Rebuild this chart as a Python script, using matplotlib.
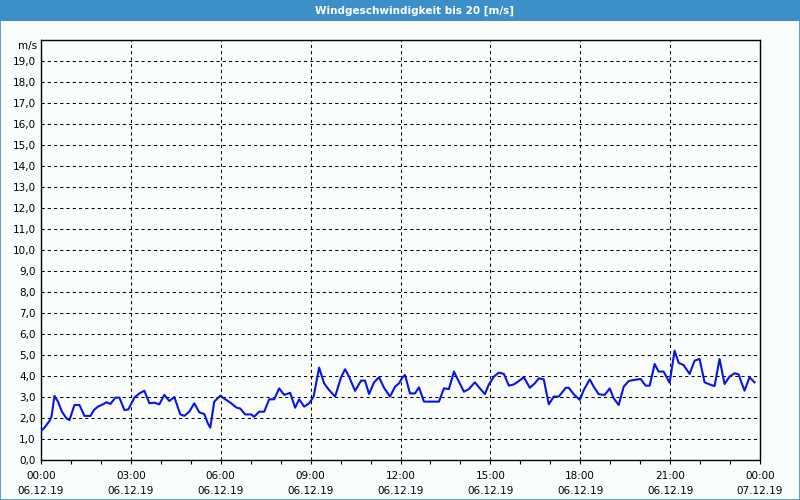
import numpy as np
import matplotlib.pyplot as plt
from matplotlib.patches import Rectangle

# Wind speed readings, 06.12.19 (minutes after midnight, m/s)
minutes = [0, 7, 17, 21, 27, 34, 42, 51, 57, 67, 77, 87, 99, 106, 114, 124, 131, 139,
           149, 157, 167, 175, 187, 197, 207, 217, 227, 237, 247, 257, 267, 279, 287,
           297, 307, 317, 327, 334, 339, 347, 359, 371, 381, 391, 399, 409, 421, 427,
           437, 447, 457, 467, 477, 487, 499, 509, 517, 527, 537, 546, 557, 567, 577,
           589, 601, 609, 617, 629, 641, 649, 657, 667, 677, 687, 699, 709, 717, 724,
           729, 739, 749, 757, 767, 777, 787, 797, 807, 817, 827, 837, 847, 857, 869,
           879, 889, 897, 907, 917, 927, 937, 947, 957, 967, 979, 989, 997, 1007, 1017,
           1027, 1037, 1051, 1057, 1067, 1079, 1087, 1099, 1107, 1117, 1129, 1139, 1147,
           1157, 1167, 1177, 1187, 1201, 1211, 1219, 1229, 1237, 1247, 1259, 1269, 1277,
           1287, 1299, 1309, 1319, 1329, 1339, 1349, 1359, 1369, 1379, 1389, 1397, 1409,
           1419, 1429]
speed = [1.38, 1.54, 1.86, 2.06, 3.05, 2.78, 2.3, 1.98, 1.9, 2.62, 2.62, 2.1, 2.1, 2.38,
         2.54, 2.65, 2.75, 2.67, 2.97, 2.97, 2.38, 2.41, 2.97, 3.17, 3.3, 2.7, 2.73, 2.65,
         3.1, 2.81, 3.0, 2.17, 2.1, 2.3, 2.7, 2.27, 2.19, 1.75, 1.54, 2.78, 3.06, 2.86,
         2.7, 2.5, 2.45, 2.17, 2.17, 2.06, 2.3, 2.3, 2.89, 2.89, 3.41, 3.1, 3.2, 2.49,
         2.89, 2.54, 2.7, 3.02, 4.4, 3.65, 3.33, 3.02, 3.94, 4.32, 3.97, 3.29, 3.78, 3.78,
         3.14, 3.7, 3.94, 3.44, 3.02, 3.49, 3.65, 3.94, 4.05, 3.17, 3.17, 3.46, 2.78,
         2.78, 2.78, 2.78, 3.41, 3.38, 4.21, 3.73, 3.25, 3.38, 3.7, 3.41, 3.14, 3.6,
         3.97, 4.16, 4.1, 3.54, 3.6, 3.76, 3.94, 3.44, 3.65, 3.89, 3.84, 2.65, 3.02,
         3.02, 3.44, 3.44, 3.13, 2.86, 3.33, 3.84, 3.49, 3.13, 3.1, 3.41, 2.94, 2.62,
         3.49, 3.76, 3.81, 3.86, 3.54, 3.54, 4.57, 4.21, 4.21, 3.68, 5.21, 4.63, 4.52,
         4.1, 4.73, 4.81, 3.7, 3.6, 3.52, 4.81, 3.62, 3.97, 4.13, 4.08, 3.3, 3.94, 3.7]

tick_hours = [0, 3, 6, 9, 12, 15, 18, 21, 24]
tick_times = ["00:00", "03:00", "06:00", "09:00", "12:00", "15:00", "18:00", "21:00", "00:00"]
tick_dates = ["06.12.19"] * 8 + ["07.12.19"]
y_ticks = list(range(0, 20))

title = "Windgeschwindigkeit bis 20 [m/s]"
bar_color = "#3d90c7"
bg_color = "#f9fdfc"

fig = plt.figure(figsize=(8, 5), dpi=100, facecolor=bg_color)

# window frame and title bar
fig.patches.append(Rectangle((0, 0.958), 1, 0.042, transform=fig.transFigure,
                             facecolor=bar_color, edgecolor="none", zorder=0))
fig.patches.append(Rectangle((0.0006, 0.001), 0.9988, 0.998, transform=fig.transFigure,
                             facecolor="none", edgecolor=bar_color, lw=1.2, zorder=5))
fig.text(0.518, 0.979, title, color="white", fontsize=7.5, fontweight="bold",
         ha="center", va="center")

ax = fig.add_axes([41 / 800, 40 / 500, 719 / 800, 420 / 500])
ax.set_facecolor(bg_color)

x = np.array(minutes) / 60.0
ax.plot(x, speed, color="#0a14e6", lw=1.5, zorder=3)

ax.set_xlim(0, 24)
ax.set_ylim(0, 20)
ax.set_yticks(y_ticks)
ax.set_yticklabels([f"{v},0" for v in y_ticks], fontsize=7.5)
ax.set_xticks(tick_hours)
ax.set_xticklabels([t + "\n" + d for t, d in zip(tick_times, tick_dates)],
                   fontsize=7.5, linespacing=1.55)
ax.set_xticks(range(0, 25), minor=True)
ax.tick_params(axis="y", length=0, pad=4)
ax.tick_params(axis="x", which="both", length=3, width=0.8, direction="out", pad=5)

ax.grid(True, color="black", lw=0.75, linestyle=(0, (3, 3)))
for s in ax.spines.values():
    s.set_linewidth(1.0)
    s.set_color("black")

fig.text(37 / 800, 1 - 46 / 500, "m/s", fontsize=7.5, ha="right", va="center")

fig.savefig("out.png", dpi=100, facecolor=bg_color)
